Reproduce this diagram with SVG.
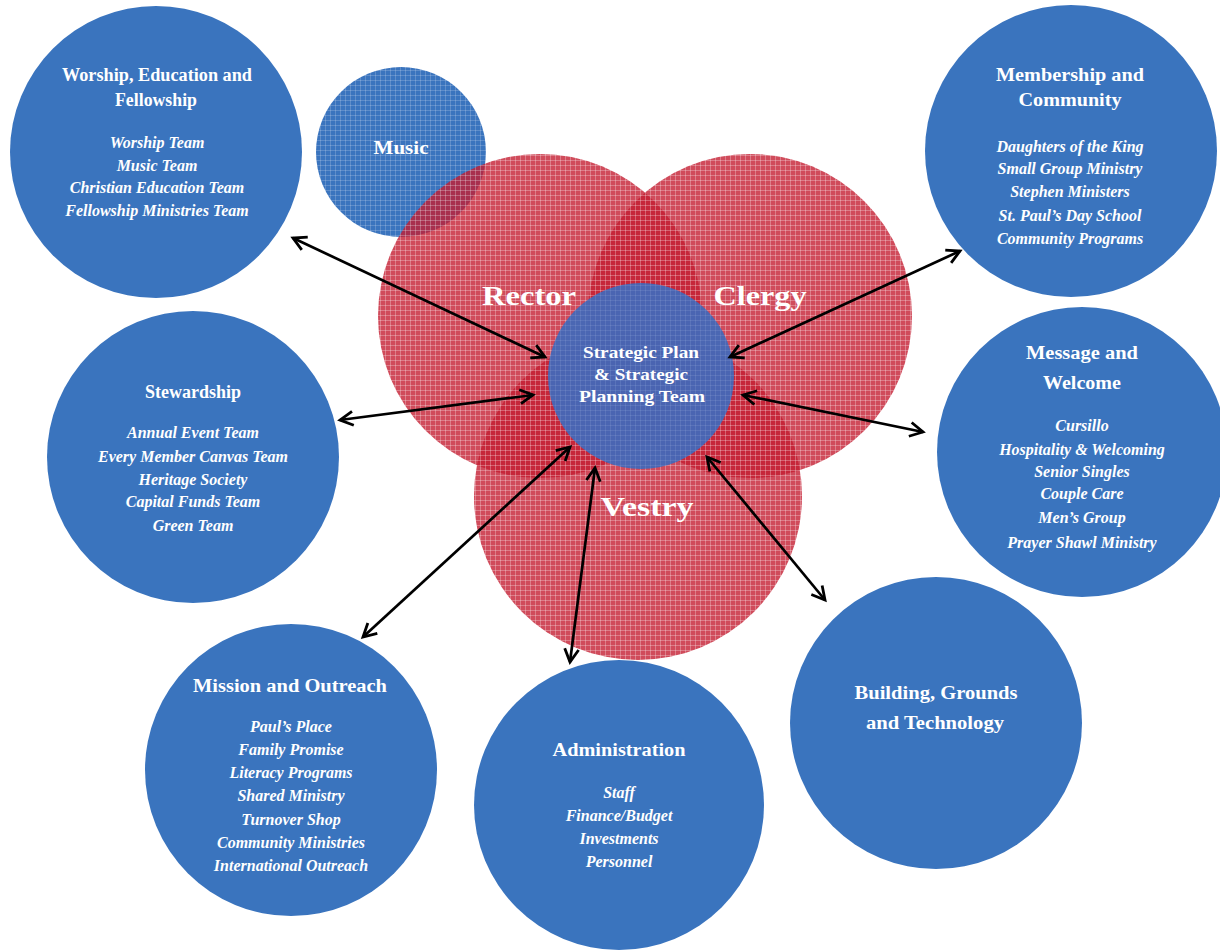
<svg xmlns="http://www.w3.org/2000/svg" width="1220" height="951" viewBox="0 0 1220 951">
<style>
.node{fill:#3a74be}
.t{font-family:"Liberation Serif","Times New Roman",serif;font-weight:bold;fill:#fff;text-anchor:middle;font-size:18px}
.i{font-family:"Liberation Serif","Times New Roman",serif;font-weight:bold;font-style:italic;fill:#fff;text-anchor:middle;font-size:16px}
.big{font-family:"Liberation Serif","Times New Roman",serif;font-weight:bold;fill:#fff;text-anchor:middle;font-size:28px}
.c{font-family:"Liberation Serif","Times New Roman",serif;font-weight:bold;fill:#fff;text-anchor:middle;font-size:17px}
.arrow{stroke:#000;stroke-width:2.7;fill:none;marker-start:url(#ah);marker-end:url(#ah)}
</style>
<defs>
<pattern id="redgrid" width="5" height="5" patternUnits="userSpaceOnUse">
<rect width="5" height="5" fill="#c41e32"/>
<path d="M0 0.5H5M0.5 0V5" stroke="#fff" stroke-opacity="0.28" stroke-width="1"/>
</pattern>
<pattern id="bluegrid" width="5" height="5" patternUnits="userSpaceOnUse">
<rect width="5" height="5" fill="#3a74be"/>
<path d="M0 0.5H5M0.5 0V5" stroke="#fff" stroke-opacity="0.18" stroke-width="1"/>
</pattern>
<pattern id="centergrid" width="5" height="5" patternUnits="userSpaceOnUse">
<rect width="5" height="5" fill="#4468b8"/>
<path d="M0 0.5H5M0.5 0V5" stroke="#fff" stroke-opacity="0.08" stroke-width="1"/>
</pattern>
<marker id="ah" markerUnits="userSpaceOnUse" markerWidth="20" markerHeight="18" refX="16" refY="9" orient="auto-start-reverse">
<path d="M3,2 L16,9 L3,16" fill="none" stroke="#000" stroke-width="2.8" stroke-linejoin="miter"/>
</marker>
</defs>
<rect width="1220" height="951" fill="#fff"/>

<g id="music">
<circle cx="401" cy="152" r="85" fill="url(#bluegrid)"/>
<text class="t" x="401" y="154" textLength="55" lengthAdjust="spacingAndGlyphs">Music</text>
</g>

<g id="rector">
<circle cx="540" cy="316" r="162" fill="url(#redgrid)" opacity="0.8"/>
</g>
<g id="clergy">
<circle cx="750" cy="316" r="162" fill="url(#redgrid)" opacity="0.8"/>
</g>
<g id="vestry">
<circle cx="638" cy="496" r="164" fill="url(#redgrid)" opacity="0.8"/>
</g>
<g id="venn-labels">
<text class="big" x="529" y="305" textLength="94" lengthAdjust="spacingAndGlyphs">Rector</text>
<text class="big" x="760" y="305" textLength="93" lengthAdjust="spacingAndGlyphs">Clergy</text>
<text class="big" x="647" y="516" textLength="93" lengthAdjust="spacingAndGlyphs">Vestry</text>
</g>

<g id="strategic">
<circle cx="641" cy="376" r="93" fill="url(#centergrid)" opacity="0.95"/>
<text class="c" x="641" y="358" textLength="116" lengthAdjust="spacingAndGlyphs">Strategic Plan</text>
<text class="c" x="641" y="380" textLength="94" lengthAdjust="spacingAndGlyphs">&amp; Strategic</text>
<text class="c" x="642" y="402" textLength="126" lengthAdjust="spacingAndGlyphs">Planning Team</text>
</g>

<g id="worship">
<circle class="node" cx="156" cy="152" r="146"/>
<text class="t" x="157" y="81" textLength="190" lengthAdjust="spacingAndGlyphs">Worship, Education and</text>
<text class="t" x="156" y="106" textLength="82" lengthAdjust="spacingAndGlyphs">Fellowship</text>
<text class="i" x="157" y="148">Worship Team</text>
<text class="i" x="157" y="171">Music Team</text>
<text class="i" x="157" y="193">Christian Education Team</text>
<text class="i" x="157" y="216">Fellowship Ministries Team</text>
</g>

<g id="membership">
<circle class="node" cx="1071" cy="151" r="146"/>
<text class="t" x="1070" y="81" textLength="148" lengthAdjust="spacingAndGlyphs">Membership and</text>
<text class="t" x="1070" y="106" textLength="103" lengthAdjust="spacingAndGlyphs">Community</text>
<text class="i" x="1070" y="152">Daughters of the King</text>
<text class="i" x="1070" y="174">Small Group Ministry</text>
<text class="i" x="1070" y="197">Stephen Ministers</text>
<text class="i" x="1070" y="221">St. Paul’s Day School</text>
<text class="i" x="1070" y="244">Community Programs</text>
</g>

<g id="message">
<circle class="node" cx="1082" cy="452" r="145"/>
<text class="t" x="1082" y="359" textLength="112" lengthAdjust="spacingAndGlyphs">Message and</text>
<text class="t" x="1082" y="389" textLength="78" lengthAdjust="spacingAndGlyphs">Welcome</text>
<text class="i" x="1082" y="431">Cursillo</text>
<text class="i" x="1082" y="455">Hospitality &amp; Welcoming</text>
<text class="i" x="1082" y="477">Senior Singles</text>
<text class="i" x="1082" y="499">Couple Care</text>
<text class="i" x="1082" y="523">Men’s Group</text>
<text class="i" x="1082" y="548">Prayer Shawl Ministry</text>
</g>

<g id="stewardship">
<circle class="node" cx="193" cy="457" r="146"/>
<text class="t" x="193" y="398" textLength="96" lengthAdjust="spacingAndGlyphs">Stewardship</text>
<text class="i" x="193" y="438">Annual Event Team</text>
<text class="i" x="193" y="462">Every Member Canvas Team</text>
<text class="i" x="193" y="485">Heritage Society</text>
<text class="i" x="193" y="507">Capital Funds Team</text>
<text class="i" x="193" y="531">Green Team</text>
</g>

<g id="mission">
<circle class="node" cx="291" cy="770" r="146"/>
<text class="t" x="290" y="692" textLength="194" lengthAdjust="spacingAndGlyphs">Mission and Outreach</text>
<text class="i" x="291" y="732">Paul’s Place</text>
<text class="i" x="291" y="755">Family Promise</text>
<text class="i" x="291" y="778">Literacy Programs</text>
<text class="i" x="291" y="801">Shared Ministry</text>
<text class="i" x="291" y="825">Turnover Shop</text>
<text class="i" x="291" y="848">Community Ministries</text>
<text class="i" x="291" y="871">International Outreach</text>
</g>

<g id="administration">
<circle class="node" cx="619" cy="805" r="145"/>
<text class="t" x="619" y="756" textLength="133" lengthAdjust="spacingAndGlyphs">Administration</text>
<text class="i" x="619" y="798">Staff</text>
<text class="i" x="619" y="821">Finance/Budget</text>
<text class="i" x="619" y="844">Investments</text>
<text class="i" x="619" y="867">Personnel</text>
</g>

<g id="building">
<circle class="node" cx="936" cy="723" r="146"/>
<text class="t" x="936" y="699" textLength="163" lengthAdjust="spacingAndGlyphs">Building, Grounds</text>
<text class="t" x="935" y="729" textLength="138" lengthAdjust="spacingAndGlyphs">and Technology</text>
</g>

<g id="connectors">
<line class="arrow" x1="293" y1="238" x2="545" y2="357"/>
<line class="arrow" x1="960" y1="251" x2="730" y2="357"/>
<line class="arrow" x1="340" y1="420" x2="533" y2="395"/>
<line class="arrow" x1="923" y1="432" x2="743" y2="395"/>
<line class="arrow" x1="363" y1="637" x2="570" y2="447"/>
<line class="arrow" x1="570" y1="662" x2="595" y2="468"/>
<line class="arrow" x1="825" y1="600" x2="707" y2="457"/>
</g>
</svg>
